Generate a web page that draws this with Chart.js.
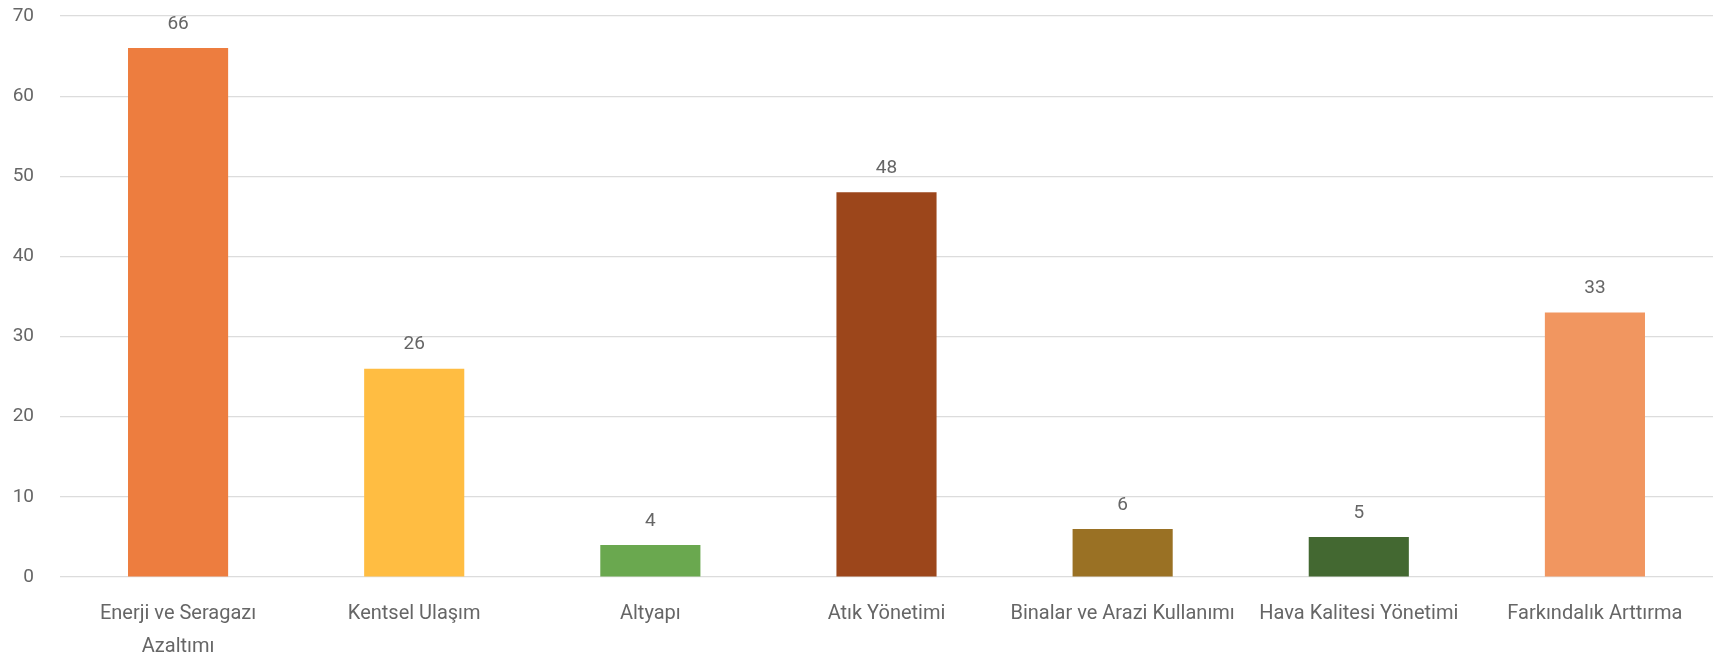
<!DOCTYPE html>
<html lang="tr">
<head>
<meta charset="utf-8">
<title>Eylem Alanlarına Göre Dağılım</title>
<script src="https://cdn.jsdelivr.net/npm/chart.js@4.4.1/dist/chart.umd.min.js"></script>
<style>
  html, body { margin: 0; padding: 0; background: #ffffff; }
  #wrap { width: 1729px; height: 658px; position: relative; }
</style>
</head>
<body>
<div id="wrap"><canvas id="grafik"></canvas></div>
<script>
// Kategoriler ve değerler
const kategoriler = [
    ['Enerji ve Seragazı', 'Azaltımı'],
    'Kentsel Ulaşım',
    'Altyapı',
    'Atık Yönetimi',
    'Binalar ve Arazi Kullanımı',
    'Hava Kalitesi Yönetimi',
    'Farkındalık Arttırma'
];
const degerler = [66, 26, 4, 48, 6, 5, 33];
const renkler = ['#ED7D3F', '#FFBD42', '#6AA84F', '#9C461B', '#9A7124', '#436831', '#F19660'];
const yEksenDegerleri = [0, 10, 20, 30, 40, 50, 60, 70];

const yaziRengi = '#666666';
const yaziTipi = 'Roboto, "Open Sans", sans-serif';

// Sütunların üstüne değerleri yaz
const degerEtiketi = {
    id: 'degerEtiketi',
    afterDatasetsDraw(chart) {
        const ctx = chart.ctx;
        ctx.save();
        ctx.font = '19px ' + yaziTipi;
        ctx.fillStyle = yaziRengi;
        ctx.textAlign = 'center';
        ctx.textBaseline = 'middle';
        chart.getDatasetMeta(0).data.forEach((bar, i) => {
            ctx.fillText(chart.data.datasets[0].data[i], bar.x, bar.y - 24);
        });
        ctx.restore();
    }
};

const ctx = document.getElementById('grafik').getContext('2d');
new Chart(ctx, {
    type: 'bar',
    data: {
        labels: kategoriler,
        datasets: [{
            data: degerler,
            backgroundColor: renkler,
            borderWidth: 0,
            categoryPercentage: 1,
            barPercentage: 0.424
        }]
    },
    options: {
        responsive: true,
        maintainAspectRatio: false,
        animation: false,
        layout: { padding: { top: 16, right: 16, left: 0, bottom: 0 } },
        plugins: {
            legend: { display: false },
            tooltip: { enabled: false }
        },
        scales: {
            x: {
                grid: { display: false },
                border: { display: false },
                ticks: {
                    color: yaziRengi,
                    font: { family: yaziTipi, size: 20, lineHeight: 1.65 },
                    padding: 12,
                    maxRotation: 0,
                    autoSkip: false
                },
                afterFit(axis) {
                    axis.height = 81;
                    axis.paddingLeft = 0;
                    axis.paddingRight = 0;
                }
            },
            y: {
                min: 0,
                max: 70,
                afterBuildTicks(axis) {
                    axis.ticks = yEksenDegerleri.map(v => ({ value: v }));
                },
                grid: { color: '#dcdcdc', lineWidth: 1.2, drawTicks: false },
                border: { display: false },
                ticks: {
                    color: yaziRengi,
                    font: { family: yaziTipi, size: 19 },
                    padding: 26
                },
                afterFit(axis) {
                    axis.width = 60;
                    axis.paddingTop = 0;
                    axis.paddingBottom = 0;
                }
            }
        }
    },
    plugins: [degerEtiketi]
});
</script>
</body>
</html>
